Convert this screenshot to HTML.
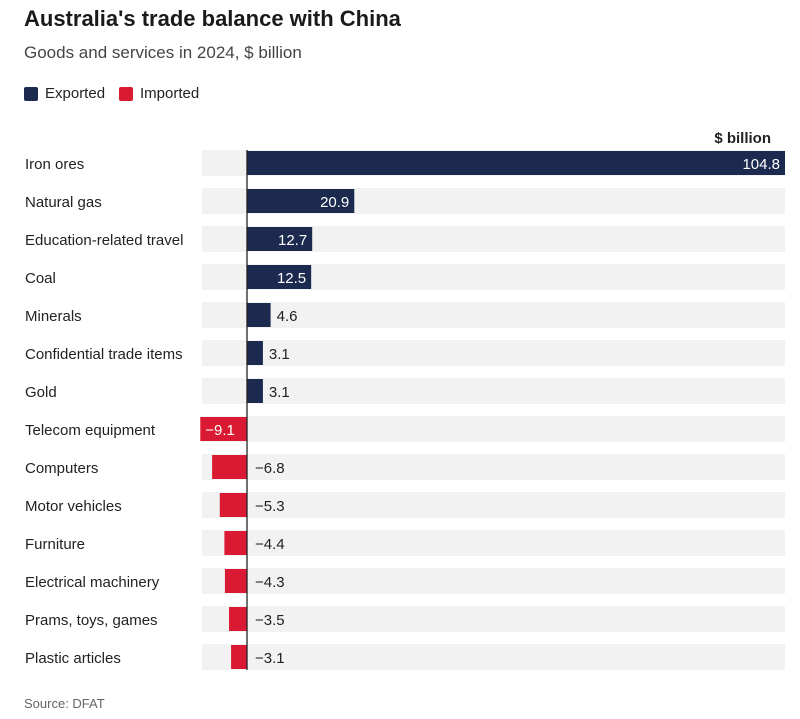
<!DOCTYPE html>
<html><head><meta charset="utf-8"><style>
body{margin:0;background:#fff;font-family:"Liberation Sans",sans-serif;color:#222;}
#wrap{position:relative;width:800px;height:719px;overflow:hidden;}
.t{position:absolute;white-space:nowrap;}
</style></head><body>
<div id="wrap">
<div class="t" style="left:24px;top:6px;font-size:22px;font-weight:bold;color:#1a1a1a;">Australia's trade balance with China</div>
<div class="t" style="left:24px;top:43px;font-size:17px;color:#444;">Goods and services in 2024, $ billion</div>
<div>
<div class="t" style="left:24px;top:87px;width:14px;height:14px;background:#1b2a4e;border-radius:2px;"></div>
<div class="t" style="left:45px;top:85px;font-size:15px;">Exported</div>
<div class="t" style="left:119px;top:87px;width:14px;height:14px;background:#d91a32;border-radius:2px;"></div>
<div class="t" style="left:140px;top:85px;font-size:15px;">Imported</div>
</div>
<div class="t" style="right:29px;top:130px;font-size:15px;font-weight:bold;">$ billion</div>
<svg id="plot" width="800" height="719" style="position:absolute;left:0;top:0;"></svg>
<div class="t" style="left:24px;top:696px;font-size:13px;color:#666;">Source: DFAT</div>
</div>
<script>
const categories=["Iron ores","Natural gas","Education-related travel","Coal","Minerals","Confidential trade items","Gold","Telecom equipment","Computers","Motor vehicles","Furniture","Electrical machinery","Prams, toys, games","Plastic articles"];
const values=[104.8,20.9,12.7,12.5,4.6,3.1,3.1,-9.1,-6.8,-5.3,-4.4,-4.3,-3.5,-3.1];
const labels=["104.8","20.9","12.7","12.5","4.6","3.1","3.1","\u22129.1","\u22126.8","\u22125.3","\u22124.4","\u22124.3","\u22123.5","\u22123.1"];
const svg=document.getElementById('plot');
const NS='http://www.w3.org/2000/svg';
const x0=247, xMax=785, maxV=104.8, top0=150, pitch=38, bandH=26;
const x=v=>x0+v*(xMax-x0)/maxV;
const y=i=>top0+i*pitch;
function mk(t,a){const e=document.createElementNS(NS,t);for(const k in a)e.setAttribute(k,a[k]);svg.appendChild(e);return e;}
categories.forEach((c,i)=>{
  const band=mk('rect',{x:202,y:y(i),width:583,height:bandH,fill:'#f2f2f2'});
  
  
  const lab=mk('text',{x:25,y:y(i)+19,'font-size':15,fill:'#222','font-family':'Liberation Sans, sans-serif'});
  lab.textContent=c;
  
  
  const v=values[i];
  const xa=Math.min(x(0),x(v)), w=Math.abs(x(v)-x(0));
  const bar=mk('rect',{x:xa,y:y(i)+1,width:w,height:bandH-2,fill:v>=0?'#1b2a4e':'#d91a32'});
  
  
  const inside=w>40;
  let tx,anchor,fill;
  if(v>=0){ if(inside){tx=x(v)-5;anchor='end';fill='#fff';} else {tx=x(v)+6;anchor='start';fill='#222';} }
  else { if(inside){tx=x(v)+5;anchor='start';fill='#fff';} else {tx=x(0)+8;anchor='start';fill='#222';} }
  const vt=mk('text',{x:tx,y:y(i)+19,'font-size':15,fill:fill,'text-anchor':anchor,'font-family':'Liberation Sans, sans-serif'});
  vt.textContent=labels[i];
  
  
});
const ax=mk('line',{x1:x0,x2:x0,y1:top0,y2:y(categories.length-1)+bandH,stroke:'#222','stroke-width':1.3});


</script>
</body></html>
